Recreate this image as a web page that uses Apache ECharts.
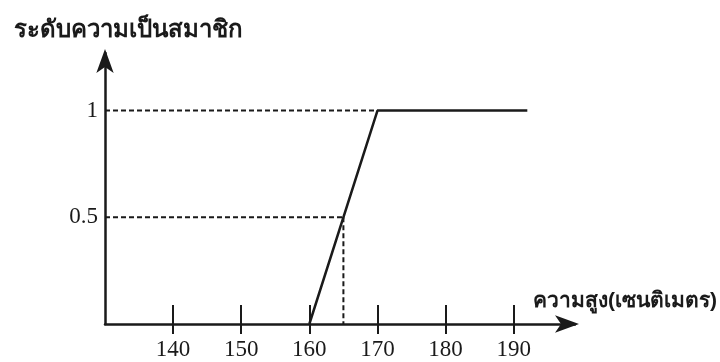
<!DOCTYPE html>
<html>
<head>
<meta charset="utf-8">
<script src="https://cdn.jsdelivr.net/npm/echarts@6/dist/echarts.min.js"></script>
<style>
  html, body { margin: 0; padding: 0; background: #fff; }
  #chart { width: 720px; height: 362px; }
</style>
</head>
<body>
<div id="chart"></div>
<script>
// ฟังก์ชันความเป็นสมาชิก (ความสูง -> ระดับ)
const heights = [160, 170, 192];
const membership = [0, 1, 1];
// เส้นประอ้างอิง
const guideX = [170, 165];
const guideY = [1, 0.5];
// ป้ายแกน
const xTicks = [140, 150, 160, 170, 180, 190];
const yTicks = [0.5, 1];

const xMin = 130, xMax = 199;
const ink = '#1a1a1a';
const serif = '"Liberation Serif", "DejaVu Serif", serif';

let chart = echarts.init(document.getElementById('chart'));

// เส้นประ: จากแกน y ไปยังจุด และจากจุดลงแกน x (เฉพาะ 0.5)
let guides = [];
guideY.forEach((y, i) => {
    guides.push([[xMin, y], [guideX[i], y]]);
});
guides.push([[guideX[1], guideY[1]], [guideX[1], 0]]);

let dashSeries = guides.map(seg => ({
    type: 'line',
    data: seg,
    symbol: 'none',
    silent: true,
    lineStyle: { color: ink, width: 2, type: [5, 3] },
    z: 1
}));

let axisBase = {
    type: 'value',
    min: xMin,
    max: xMax,
    position: 'bottom',
    splitLine: { show: false }
};

chart.setOption({
    backgroundColor: '#fff',
    animation: false,
    grid: { left: 105, right: 143, top: 53, bottom: 38 },
    xAxis: [
        Object.assign({}, axisBase, {
            name: 'ความสูง(เซนติเมตร)',
            nameLocation: 'end',
            nameGap: 142,
            nameTextStyle: {
                color: ink, fontSize: 21, fontWeight: 'bold', align: 'right',
                verticalAlign: 'bottom', padding: [0, 0, 12, 0]
            },
            axisLine: {
                lineStyle: { color: ink, width: 2.5 },
                symbol: ['none', 'arrow'],
                symbolSize: [13, 24],
                symbolOffset: [0, 4]
            },
            axisTick: {
                inside: true, length: 19, customValues: xTicks,
                lineStyle: { color: ink, width: 2 }
            },
            axisLabel: {
                customValues: xTicks, margin: 14,
                color: ink, fontSize: 23, fontFamily: serif
            }
        }),
        Object.assign({}, axisBase, {
            axisLine: { show: false },
            axisTick: {
                inside: false, length: 10, customValues: xTicks,
                lineStyle: { color: ink, width: 2 }
            },
            axisLabel: { show: false }
        })
    ],
    yAxis: {
        type: 'value',
        min: 0,
        max: 1.27,
        name: 'ระดับความเป็นสมาชิก',
        nameLocation: 'end',
        nameGap: 23,
        nameTextStyle: {
            color: ink, fontSize: 24, fontWeight: 'bold',
            align: 'center', verticalAlign: 'middle', padding: [0, 0, 0, 46]
        },
        splitLine: { show: false },
        axisLine: {
            lineStyle: { color: ink, width: 2.5 },
            symbol: ['none', 'arrow'],
            symbolSize: [13, 24],
            symbolOffset: [0, 4]
        },
        axisTick: { show: false },
        axisLabel: {
            customValues: yTicks, margin: 7,
            color: ink, fontSize: 23, fontFamily: serif
        }
    },
    series: [{
        type: 'line',
        data: heights.map((h, i) => [h, membership[i]]),
        symbol: 'none',
        lineStyle: { color: ink, width: 2.5 },
        z: 3
    }].concat(dashSeries)
});
</script>
</body>
</html>
